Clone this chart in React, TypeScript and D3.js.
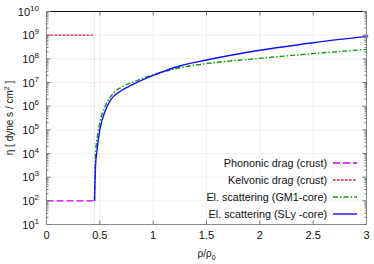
import { useEffect, useRef } from "react";
import * as d3 from "d3";

// density ρ/ρ0 and viscosity η [dyne s / cm^2]
const CRUST_EDGE = 0.45;
const phononicRho = [0, 0.45];
const phononicEta = [1e2, 1e2];
const kelvonicRho = [0, 0.45];
const kelvonicEta = [1e9, 1e9];

const slyRho = [0.45, 0.46, 0.47, 0.5, 0.55, 0.6, 0.7, 0.8, 1.0, 1.25, 1.5, 2.0, 2.5, 3.0];
const slyEta = [1e2, 3.2e3, 1e4, 1e5, 6.3e5, 1.8e6, 4.5e6, 7.9e6, 2e7, 5e7, 8.9e7, 2.3e8, 4.8e8, 8.9e8];

const gm1Rho = [0.45, 0.46, 0.48, 0.5, 0.55, 0.6, 0.7, 0.8, 1.0, 1.25, 1.5, 2.0, 2.5, 3.0];
const gm1Eta = [1e2, 1e4, 6.3e4, 2e5, 1e6, 2.5e6, 6.3e6, 1e7, 2.1e7, 4.2e7, 6.3e7, 1.05e8, 1.66e8, 2.5e8];

const xTicks = [0, 0.5, 1, 1.5, 2, 2.5, 3];
const yExps = [1, 2, 3, 4, 5, 6, 7, 8, 9, 10];

const LEGEND = [
  { label: "Phononic drag (crust)", color: "#cc00dd", dash: "7,3" },
  { label: "Kelvonic drag (crust)", color: "#e0103c", dash: "2.5,1.5" },
  { label: "El. scattering (GM1-core)", color: "#109c10", dash: "5,2,1.5,2" },
  { label: "El. scattering (SLy -core)", color: "#1010ff", dash: "" },
];

export default function App() {
  const ref = useRef<SVGSVGElement>(null);

  useEffect(() => {
    const el = ref.current;
    if (!el) return;
    const W = 374, H = 264;
    const M = { top: 11.5, right: 7.5, bottom: 39.5, left: 46.5 };
    const svg = d3.select(el).attr("width", W).attr("height", H).attr("viewBox", `0 0 ${W} ${H}`);
    svg.selectAll("*").remove();
    const font = "'Liberation Sans', Arial, sans-serif";

    const x = d3.scaleLinear().domain([0, 3]).range([M.left, W - M.right]);
    const y = d3.scaleLog().domain([10, 1e10]).range([H - M.bottom, M.top]);

    // grid
    const grid = svg.append("g").attr("stroke", "#f0f0f0").attr("stroke-width", 1);
    xTicks.slice(1, -1).forEach((t) => {
      grid.append("line").attr("x1", x(t)).attr("x2", x(t)).attr("y1", y(10)).attr("y2", y(1e10));
    });
    yExps.slice(1, -1).forEach((e) => {
      grid.append("line").attr("x1", x(0)).attr("x2", x(3)).attr("y1", y(10 ** e)).attr("y2", y(10 ** e));
    });

    // crust/core boundary
    svg.append("line")
      .attr("x1", x(CRUST_EDGE)).attr("x2", x(CRUST_EDGE)).attr("y1", y(10)).attr("y2", y(1e10))
      .attr("stroke", "#c8c8c8").attr("stroke-width", 1).attr("stroke-dasharray", "1,2");

    svg.append("clipPath").attr("id", "plot-clip").append("rect")
      .attr("x", x(0)).attr("y", y(1e10) - 3).attr("width", x(3) - x(0) + 3).attr("height", y(10) - y(1e10) + 3);

    const line = d3.line<[number, number]>().x((d) => x(d[0])).y((d) => y(d[1]));
    const smooth = d3.line<[number, number]>().x((d) => x(d[0])).y((d) => y(d[1])).curve(d3.curveMonotoneX);
    const plot = svg.append("g").attr("clip-path", "url(#plot-clip)").attr("fill", "none");

    const series: { pts: [number, number][]; gen: typeof line; i: number }[] = [
      { pts: phononicRho.map((r, i) => [r, phononicEta[i]]), gen: line, i: 0 },
      { pts: kelvonicRho.map((r, i) => [r, kelvonicEta[i]]), gen: line, i: 1 },
      { pts: gm1Rho.map((r, i) => [r, gm1Eta[i]]), gen: smooth, i: 2 },
      { pts: slyRho.map((r, i) => [r, slyEta[i]]), gen: smooth, i: 3 },
    ];
    series.forEach((s) => {
      plot.append("path").attr("d", s.gen(s.pts))
        .attr("stroke", LEGEND[s.i].color).attr("stroke-width", 1.4)
        .attr("stroke-dasharray", LEGEND[s.i].dash || null);
    });
    plot.append("circle").attr("cx", x(3)).attr("cy", y(slyEta[slyEta.length - 1]))
      .attr("r", 1.8).attr("fill", "#8040ff");

    // frame
    const frame = svg.append("g").attr("stroke-width", 1).attr("fill", "none");
    frame.append("line").attr("x1", x(0)).attr("x2", x(3)).attr("y1", y(1e10)).attr("y2", y(1e10)).attr("stroke", "#111");
    frame.append("line").attr("x1", x(0)).attr("x2", x(3)).attr("y1", y(10)).attr("y2", y(10)).attr("stroke", "#888");
    frame.append("line").attr("x1", x(0)).attr("x2", x(0)).attr("y1", y(10)).attr("y2", y(1e10)).attr("stroke", "#888");
    frame.append("line").attr("x1", x(3)).attr("x2", x(3)).attr("y1", y(10)).attr("y2", y(1e10)).attr("stroke", "#888");

    // ticks
    const ticks = svg.append("g").attr("stroke", "#777").attr("stroke-width", 1);
    xTicks.slice(1, -1).forEach((t) => {
      ticks.append("line").attr("x1", x(t)).attr("x2", x(t)).attr("y1", y(10)).attr("y2", y(10) - 4);
      ticks.append("line").attr("x1", x(t)).attr("x2", x(t)).attr("y1", y(1e10)).attr("y2", y(1e10) + 4);
    });
    yExps.forEach((e) => {
      const base = 10 ** e;
      ticks.append("line").attr("x1", x(0)).attr("x2", x(0) + 4).attr("y1", y(base)).attr("y2", y(base));
      ticks.append("line").attr("x1", x(3)).attr("x2", x(3) - 4).attr("y1", y(base)).attr("y2", y(base));
      if (e < 10) {
        for (let k = 2; k < 10; k++) {
          const v = base * k;
          ticks.append("line").attr("x1", x(0)).attr("x2", x(0) + 2).attr("y1", y(v)).attr("y2", y(v));
          ticks.append("line").attr("x1", x(3)).attr("x2", x(3) - 2).attr("y1", y(v)).attr("y2", y(v));
        }
      }
    });

    // tick labels
    const labels = svg.append("g").attr("font-family", font).attr("fill", "#111");
    xTicks.forEach((t) => {
      labels.append("text").attr("x", x(t)).attr("y", y(10) + 14).attr("text-anchor", "middle")
        .attr("font-size", 11).text(d3.format("")(t));
    });
    yExps.forEach((e) => {
      const t = labels.append("text").attr("x", 39).attr("y", y(10 ** e) + 4).attr("text-anchor", "end").attr("font-size", 11);
      t.append("tspan").text("10");
      t.append("tspan").attr("dy", -5).attr("font-size", 8).text(String(e));
    });

    // axis titles
    const xt = labels.append("text").attr("x", x(1.5)).attr("y", 257).attr("text-anchor", "middle").attr("font-size", 10);
    xt.append("tspan").text("ρ/ρ");
    xt.append("tspan").attr("dy", 3).attr("font-size", 7).text("0");

    const yt = labels.append("text").attr("transform", `translate(13,${(y(10) + y(1e10)) / 2}) rotate(-90)`)
      .attr("text-anchor", "middle").attr("font-size", 10);
    yt.append("tspan").text("η  [ dyne s / cm");
    yt.append("tspan").attr("dy", -4).attr("font-size", 7).text("2");
    yt.append("tspan").attr("dy", 4).text(" ]");

    // legend
    const lg = svg.append("g").attr("font-family", font).attr("font-size", 10.8);
    LEGEND.forEach((d, i) => {
      const cy = 163 + i * 17;
      lg.append("text").attr("x", 327).attr("y", cy + 3.8).attr("text-anchor", "end").attr("fill", "#111").text(d.label);
      lg.append("line").attr("x1", 333).attr("x2", 357).attr("y1", cy).attr("y2", cy)
        .attr("stroke", d.color).attr("stroke-width", 1.4).attr("stroke-dasharray", d.dash || null);
    });
  }, []);

  return <svg ref={ref} style={{ position: "absolute", left: 0, top: 0, background: "#fff" }} />;
}
